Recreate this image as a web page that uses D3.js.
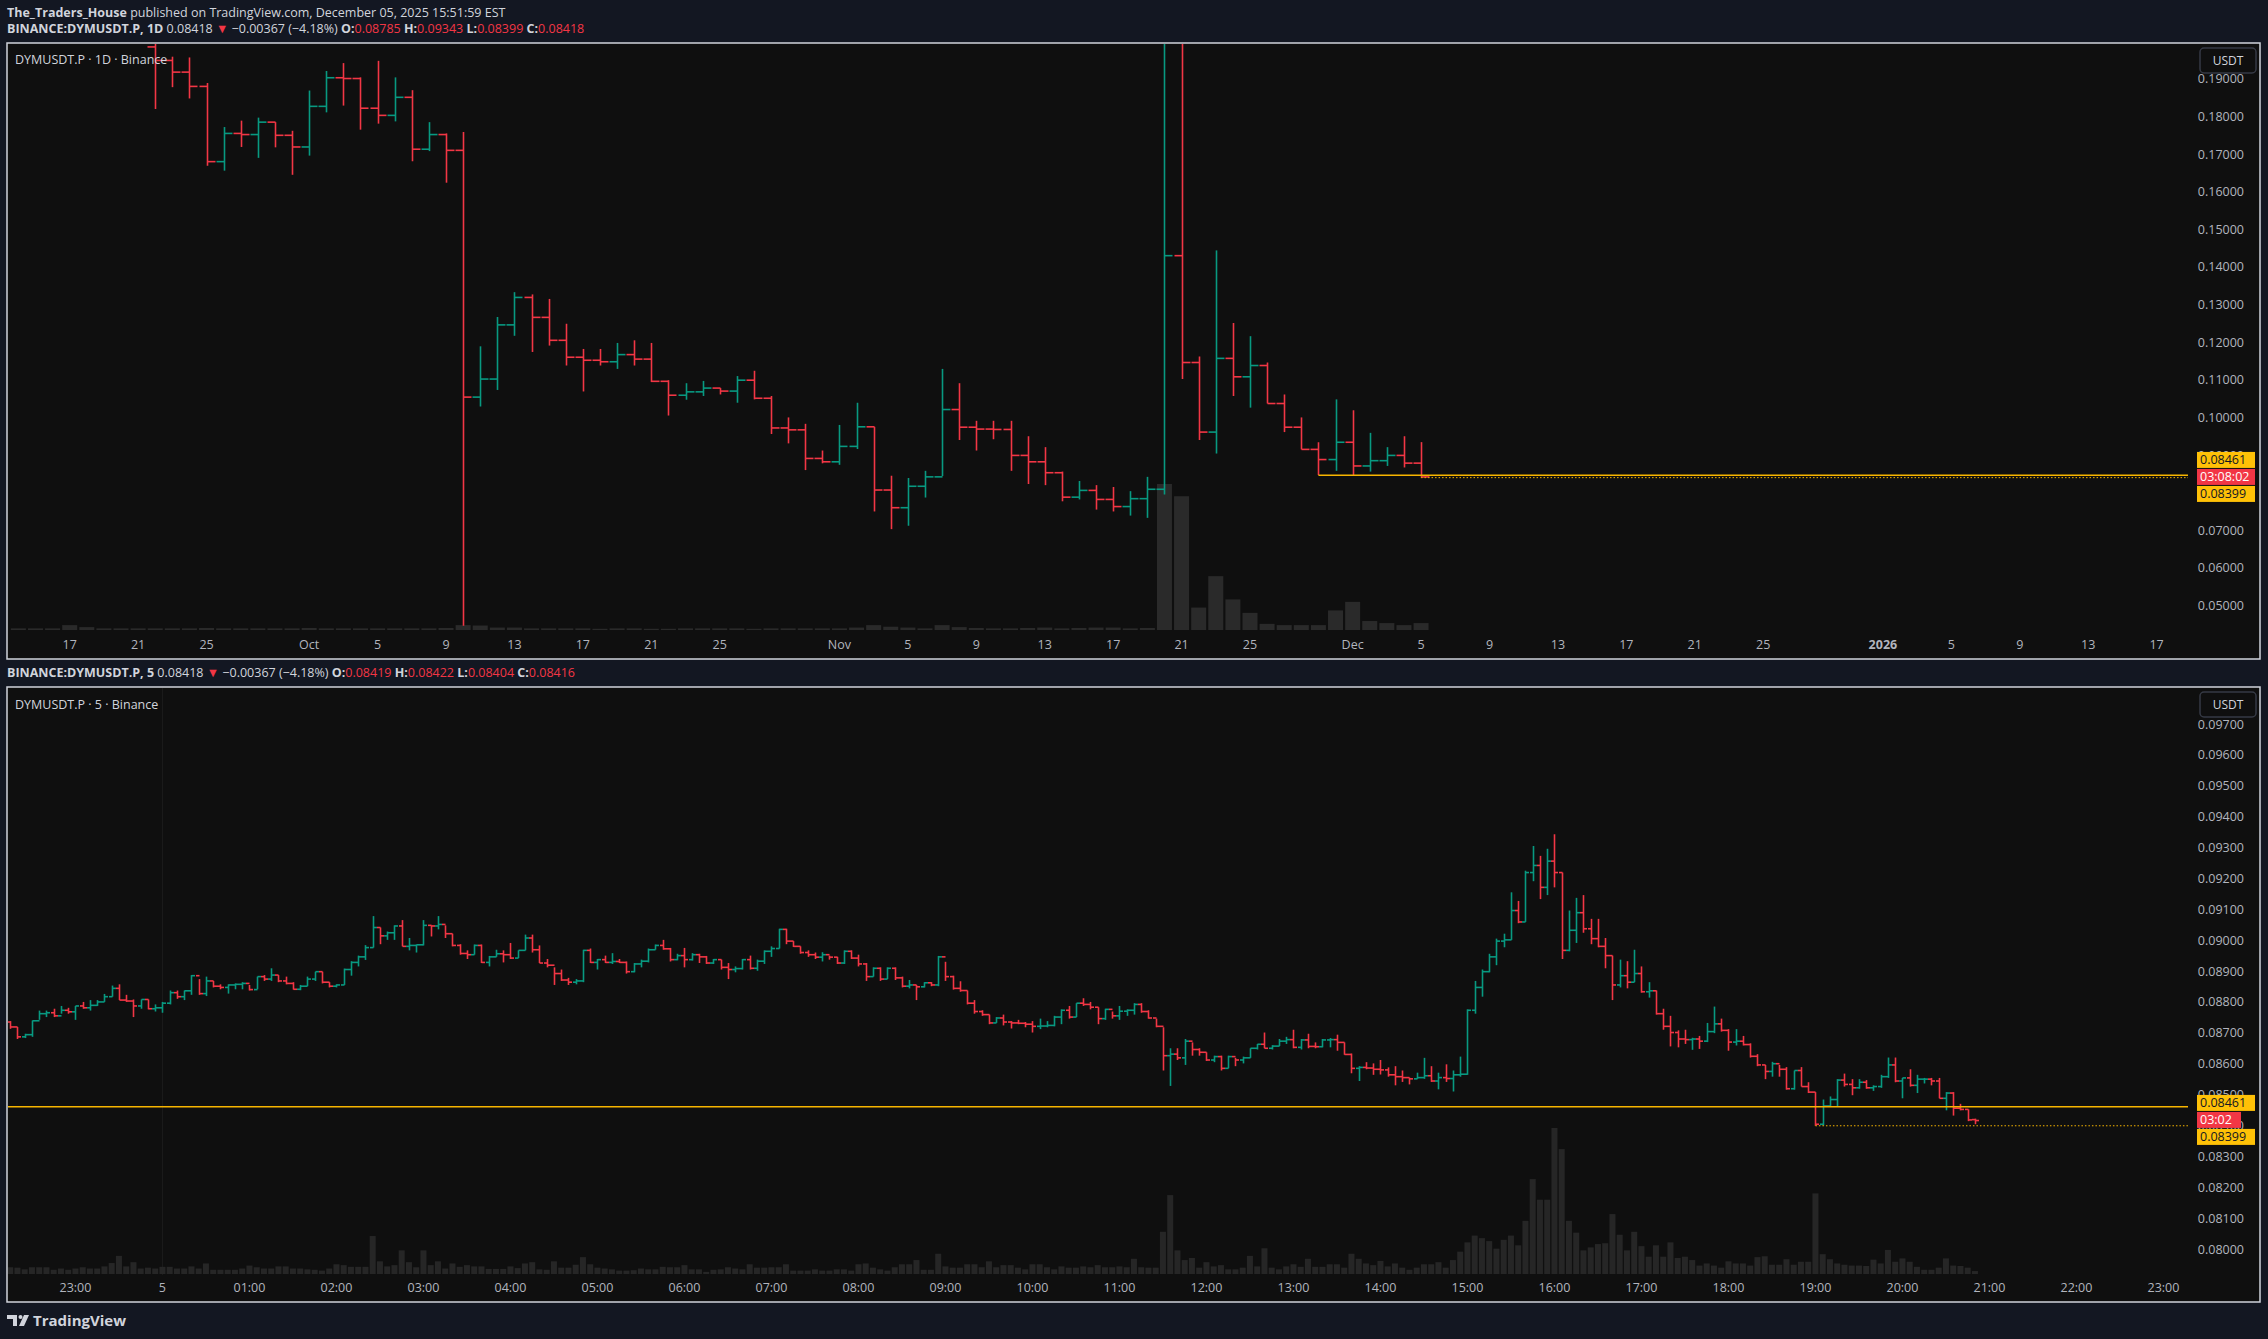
<!DOCTYPE html>
<html>
<head>
<meta charset="utf-8">
<script src="https://cdn.jsdelivr.net/npm/d3@7"></script>
<style>
  body { margin: 0; background: #131722; }
  text { font-family: "Open Sans", Roboto, "Liberation Sans", sans-serif; }
</style>
</head>
<body>
<div id="chart"></div>
<script>
// ---- daily chart (1D), Sep 22 - Dec 5 2025 ----
let dailyStart = '2025-09-22';
let dailyFirstOpen = 0.1985;
let dailyHigh = [0.201,0.1959,0.1957,0.1889,0.1772,0.1789,0.1797,0.1785,0.1762,0.1869,0.1921,0.1942,0.1904,0.1948,0.1904,0.1870,0.1785,0.1755,0.1759,
  0.1189,0.1267,0.1333,0.1327,0.1315,0.1249,0.1182,0.1182,0.1198,0.1205,0.1198,0.1099,0.1091,0.1097,0.1078,0.1110,0.1124,0.1057,0.1000,0.0983,
  0.0912,0.0980,0.1039,0.0975,0.0845,0.0839,0.0858,0.1129,0.1091,0.0991,0.0991,0.0991,0.0950,0.0921,0.0856,0.0831,0.0820,0.0815,0.0804,
  0.0842,0.215,0.205,0.1162,0.1444,0.1251,0.1216,0.1146,0.1061,0.1000,0.0934,0.1048,0.1019,0.0959,0.0921,0.0950,0.09343];
let dailyLow = [0.182,0.1878,0.1848,0.1669,0.1656,0.1719,0.1690,0.1718,0.1645,0.1696,0.1811,0.1829,0.1765,0.1781,0.1787,0.1681,0.1708,0.1624,0.0446,
  0.1029,0.1073,0.1217,0.1174,0.1191,0.1138,0.1069,0.1138,0.1129,0.1138,0.1094,0.1005,0.1047,0.1057,0.1061,0.1039,0.1048,0.0956,0.0931,0.0860,
  0.0878,0.0874,0.0916,0.0750,0.0703,0.0712,0.0787,0.0844,0.0940,0.0912,0.0942,0.0858,0.0823,0.0820,0.0777,0.0782,0.0755,0.0750,0.0739,
  0.0733,0.0795,0.1102,0.0940,0.0904,0.1057,0.1026,0.1037,0.0961,0.0915,0.0847,0.0858,0.0847,0.0856,0.0871,0.0867,0.08399];
let dailyClose = [0.1949,0.1918,0.1880,0.1680,0.1755,0.1752,0.1785,0.1750,0.1719,0.1827,0.1903,0.1901,0.1822,0.1803,0.1851,0.1713,0.1752,0.1710,0.1054,
  0.1102,0.1246,0.1319,0.1266,0.1205,0.1160,0.1152,0.1148,0.1167,0.1155,0.1096,0.1059,0.1068,0.1078,0.1070,0.1099,0.1051,0.0972,0.0967,0.0891,
  0.0882,0.0923,0.0975,0.0807,0.0760,0.0817,0.0842,0.1021,0.0974,0.0969,0.0968,0.0899,0.0882,0.0853,0.0788,0.0806,0.0782,0.0763,0.0784,
  0.0809,0.1430,0.1146,0.0961,0.1157,0.1108,0.1138,0.1037,0.0974,0.0915,0.0888,0.0934,0.0871,0.0885,0.0899,0.08785,0.08418];
let dailyVolume = [4,4,4,5,4,4,4,4,4, 5,4,4,4,4,4,4,4,5, 12,11,6,6,
  4,4,4,4,3,4,4,3,3,4,4,4,4,3,4,4,4,4,
  4,6,12,8,6,4,12,7,5,4,4,5,6,4,5,6,6,4,5,
  358,328,55,132,75,42,15,12,12,12,48,69,22,17,12,17];
// volume only (price above the visible range), Sep 14 - Sep 21
let earlyVolumeStart = '2025-09-14';
let earlyVolume = [4,4,4,12,7,4,4,4];
let dayTicks = ['2025-09-17','2025-09-21','2025-09-25','2025-10-01','2025-10-05','2025-10-09','2025-10-13','2025-10-17','2025-10-21','2025-10-25',
  '2025-11-01','2025-11-05','2025-11-09','2025-11-13','2025-11-17','2025-11-21','2025-11-25','2025-12-01','2025-12-05','2025-12-09','2025-12-13',
  '2025-12-17','2025-12-21','2025-12-25','2026-01-01','2026-01-05','2026-01-09','2026-01-13','2026-01-17'];
let dailyTicksY = [0.05,0.06,0.07,0.08,0.09,0.10,0.11,0.12,0.13,0.14,0.15,0.16,0.17,0.18,0.19];

// ---- 5 minute chart, Dec 4 22:15 - Dec 5 20:50 ----
let intraStart = '2025-12-04T22:15:00Z';
let intraFirstOpen = 0.08735;
let intraHigh = [0.08738,0.08719,0.08697,0.08740,0.08772,0.08772,0.08778,0.08787,0.08781,0.08787,0.08800,0.08806,0.08806,0.08826,0.08853,0.08857,0.08823,0.08808,0.08808,0.08808,
0.08792,0.08800,0.08837,0.08837,0.08837,0.08887,0.08874,0.08882,0.08868,0.08857,0.08857,0.08860,0.08864,0.08855,0.08882,0.08887,0.08909,0.08887,0.08882,0.08864,
0.08855,0.08882,0.08898,0.08898,0.08864,0.08857,0.08908,0.08932,0.08950,0.08984,0.09078,0.09041,0.09028,0.09048,0.09065,0.09007,0.08986,0.09065,0.09048,0.09078,
0.09048,0.09021,0.08987,0.08967,0.08986,0.08986,0.08949,0.08969,0.08967,0.08991,0.08967,0.09018,0.09018,0.08983,0.08939,0.08912,0.08905,0.08878,0.08874,0.08969,
0.08973,0.08939,0.08950,0.08958,0.08939,0.08931,0.08926,0.08937,0.08973,0.08986,0.09001,0.08975,0.08956,0.08975,0.08958,0.08956,0.08949,0.08939,0.08937,0.08926,
0.08915,0.08939,0.08950,0.08937,0.08967,0.08980,0.09037,0.09037,0.08997,0.08980,0.08967,0.08960,0.08961,0.08950,0.08946,0.08967,0.08967,0.08953,0.08926,0.08912,
0.08912,0.08912,0.08912,0.08882,0.08871,0.08855,0.08864,0.08864,0.08949,0.08930,0.08885,0.08867,0.08837,0.08806,0.08773,0.08759,0.08751,0.08759,0.08738,0.08742,
0.08735,0.08738,0.08746,0.08738,0.08755,0.08776,0.08787,0.08796,0.08812,0.08800,0.08783,0.08778,0.08769,0.08787,0.08776,0.08796,0.08796,0.08773,0.08746,0.08718,
0.08650,0.08650,0.08680,0.08669,0.08650,0.08637,0.08626,0.08626,0.08626,0.08619,0.08623,0.08650,0.08664,0.08701,0.08660,0.08680,0.08687,0.08710,0.08680,0.08697,
0.08669,0.08680,0.08683,0.08694,0.08669,0.08633,0.08592,0.08605,0.08601,0.08612,0.08588,0.08592,0.08578,0.08555,0.08571,0.08619,0.08592,0.08571,0.08598,0.08578,
0.08623,0.08776,0.08868,0.08905,0.08956,0.09005,0.09021,0.09155,0.09127,0.09225,0.09305,0.09273,0.09296,0.09343,0.09219,0.09096,0.09137,0.09146,0.09069,0.09069,
0.09007,0.08950,0.08937,0.08932,0.08969,0.08915,0.08864,0.08837,0.08778,0.08755,0.08708,0.08710,0.08684,0.08690,0.08732,0.08785,0.08746,0.08712,0.08712,0.08690,
0.08666,0.08631,0.08596,0.08606,0.08596,0.08589,0.08578,0.08589,0.08540,0.08508,0.08484,0.08494,0.08550,0.08568,0.08550,0.08550,0.08547,0.08530,0.08564,0.08620,
0.08620,0.08554,0.08582,0.08564,0.08554,0.08554,0.08554,0.08508,0.08508,0.08470,0.08452,0.08422];
let intraLow = [0.08713,0.08680,0.08683,0.08687,0.08742,0.08751,0.08751,0.08762,0.08762,0.08742,0.08778,0.08772,0.08787,0.08800,0.08817,0.08806,0.08800,0.08751,0.08778,0.08776,
0.08769,0.08765,0.08792,0.08810,0.08806,0.08823,0.08823,0.08819,0.08847,0.08841,0.08827,0.08841,0.08841,0.08837,0.08841,0.08868,0.08868,0.08864,0.08857,0.08840,
0.08838,0.08851,0.08868,0.08860,0.08847,0.08847,0.08855,0.08885,0.08915,0.08936,0.08976,0.08987,0.09001,0.09001,0.08980,0.08967,0.08960,0.08983,0.09012,0.09035,
0.09007,0.08980,0.08953,0.08939,0.08953,0.08926,0.08915,0.08946,0.08928,0.08939,0.08942,0.08967,0.08960,0.08926,0.08912,0.08855,0.08868,0.08855,0.08857,0.08864,
0.08926,0.08905,0.08926,0.08923,0.08926,0.08892,0.08896,0.08912,0.08928,0.08969,0.08969,0.08931,0.08935,0.08912,0.08934,0.08926,0.08923,0.08923,0.08905,0.08874,
0.08896,0.08905,0.08905,0.08901,0.08923,0.08946,0.08973,0.08987,0.08978,0.08956,0.08946,0.08939,0.08931,0.08937,0.08923,0.08923,0.08939,0.08915,0.08868,0.08882,
0.08868,0.08874,0.08871,0.08847,0.08844,0.08806,0.08847,0.08851,0.08851,0.08868,0.08840,0.08833,0.08792,0.08762,0.08755,0.08728,0.08732,0.08724,0.08714,0.08728,
0.08718,0.08701,0.08712,0.08718,0.08721,0.08728,0.08746,0.08751,0.08787,0.08776,0.08728,0.08742,0.08746,0.08742,0.08755,0.08759,0.08765,0.08746,0.08718,0.08578,
0.08528,0.08612,0.08596,0.08626,0.08626,0.08609,0.08605,0.08578,0.08585,0.08592,0.08601,0.08619,0.08646,0.08650,0.08646,0.08657,0.08664,0.08650,0.08646,0.08650,
0.08650,0.08653,0.08653,0.08642,0.08629,0.08569,0.08544,0.08582,0.08564,0.08565,0.08558,0.08530,0.08541,0.08533,0.08551,0.08551,0.08541,0.08517,0.08541,0.08510,
0.08558,0.08564,0.08762,0.08817,0.08896,0.08919,0.08977,0.09001,0.09055,0.09059,0.09191,0.09133,0.09146,0.09171,0.08939,0.08964,0.08991,0.09024,0.08987,0.08977,
0.08909,0.08806,0.08847,0.08844,0.08864,0.08830,0.08814,0.08759,0.08710,0.08656,0.08653,0.08664,0.08645,0.08648,0.08670,0.08699,0.08704,0.08642,0.08659,0.08659,
0.08620,0.08592,0.08550,0.08558,0.08558,0.08516,0.08516,0.08526,0.08505,0.08399,0.08400,0.08463,0.08460,0.08526,0.08498,0.08519,0.08519,0.08512,0.08522,0.08554,
0.08540,0.08488,0.08526,0.08505,0.08536,0.08530,0.08488,0.08449,0.08432,0.08449,0.08414,0.08404];
let intraClose = [0.08719,0.08687,0.08694,0.08739,0.08762,0.08765,0.08755,0.08773,0.08768,0.08787,0.08781,0.08789,0.08800,0.08817,0.08844,0.08806,0.08803,0.08787,0.08808,0.08778,
0.08781,0.08796,0.08830,0.08817,0.08836,0.08885,0.08827,0.08868,0.08851,0.08847,0.08855,0.08857,0.08860,0.08840,0.08882,0.08874,0.08887,0.08868,0.08860,0.08841,
0.08851,0.08874,0.08898,0.08864,0.08851,0.08855,0.08905,0.08928,0.08946,0.08976,0.09041,0.09014,0.09024,0.09046,0.08980,0.08983,0.08985,0.09048,0.09046,0.09051,
0.09021,0.08983,0.08957,0.08953,0.08983,0.08928,0.08946,0.08956,0.08953,0.08942,0.08967,0.09007,0.08969,0.08926,0.08919,0.08892,0.08871,0.08864,0.08868,0.08967,
0.08928,0.08937,0.08928,0.08931,0.08928,0.08898,0.08923,0.08932,0.08969,0.08983,0.08972,0.08937,0.08950,0.08937,0.08953,0.08946,0.08926,0.08937,0.08912,0.08905,
0.08908,0.08937,0.08909,0.08932,0.08964,0.08973,0.09035,0.08997,0.08980,0.08960,0.08953,0.08945,0.08953,0.08945,0.08926,0.08964,0.08942,0.08923,0.08882,0.08909,
0.08874,0.08909,0.08878,0.08851,0.08855,0.08849,0.08862,0.08855,0.08946,0.08882,0.08844,0.08837,0.08796,0.08769,0.08759,0.08732,0.08748,0.08735,0.08732,0.08731,
0.08728,0.08721,0.08722,0.08724,0.08751,0.08773,0.08751,0.08796,0.08792,0.08783,0.08746,0.08776,0.08755,0.08770,0.08773,0.08792,0.08769,0.08748,0.08721,0.08626,
0.08631,0.08619,0.08673,0.08646,0.08637,0.08612,0.08623,0.08585,0.08623,0.08612,0.08619,0.08650,0.08663,0.08650,0.08657,0.08673,0.08678,0.08653,0.08677,0.08656,
0.08655,0.08677,0.08678,0.08669,0.08630,0.08585,0.08588,0.08586,0.08582,0.08580,0.08564,0.08558,0.08555,0.08551,0.08555,0.08561,0.08544,0.08555,0.08552,0.08564,
0.08566,0.08773,0.08847,0.08898,0.08946,0.08997,0.09001,0.09096,0.09059,0.09219,0.09242,0.09171,0.09256,0.09219,0.08967,0.09032,0.09089,0.09037,0.09005,0.08980,
0.08950,0.08855,0.08885,0.08864,0.08892,0.08833,0.08836,0.08762,0.08721,0.08701,0.08680,0.08678,0.08680,0.08673,0.08704,0.08729,0.08708,0.08670,0.08673,0.08662,
0.08624,0.08596,0.08575,0.08600,0.08582,0.08519,0.08578,0.08526,0.08508,0.08404,0.08463,0.08484,0.08547,0.08533,0.08522,0.08540,0.08522,0.08526,0.08558,0.08596,
0.08544,0.08554,0.08530,0.08550,0.08550,0.08544,0.08488,0.08505,0.08456,0.08452,0.08418,0.08416];
let intraLastOpen = 0.08419;
let intraVolume = [16,15,11,16,16,16,10,13,10,13,16,13,13,18,26,43,18,28,13,15,
13,17,17,13,13,18,13,25,10,10,10,10,13,20,16,13,13,18,18,13,
13,11,10,8,13,23,21,17,17,17,90,30,18,21,56,28,16,56,21,30,
13,25,17,21,18,18,12,12,12,18,14,25,28,11,10,30,15,15,22,40,
23,15,13,11,8,8,9,13,11,11,17,16,16,21,11,11,5,10,11,16,
13,11,23,15,15,16,16,23,8,8,8,11,8,8,11,11,8,23,25,15,
11,8,16,23,23,33,10,10,48,18,15,15,23,23,16,30,16,21,21,15,
11,23,23,16,11,18,15,15,18,16,21,16,16,18,16,36,16,15,15,100,
187,56,33,38,15,28,18,21,11,11,15,43,18,61,15,11,18,23,17,36,
17,17,23,23,15,48,36,25,21,31,18,25,15,10,15,23,23,28,15,33,
53,75,91,85,78,60,81,91,68,126,225,176,176,346,296,126,98,56,63,71,
73,142,93,56,100,66,41,68,41,75,38,41,33,20,25,20,15,30,25,25,
20,40,42,22,22,35,22,29,29,191,47,35,25,22,20,20,19,34,25,57,
29,37,29,17,10,10,15,37,20,19,15,7];
let intraTicksY = [0.080,0.081,0.082,0.083,0.084,0.085,0.086,0.087,0.088,0.089,0.090,0.091,0.092,0.093,0.094,0.095,0.096,0.097];

// horizontal levels
let levelHigh = 0.08461;
let levelLow = 0.08399;
let lastPrice = 0.08418;

const W = 2268, H = 1339;
const up = '#089981', down = '#f23645', gold = '#f7b500', txt = '#b2b5be';

let svg = d3.select('#chart').append('svg')
  .attr('width', W).attr('height', H)
  .style('display', 'block').style('background', '#131722');

// header
let hdr = svg.append('text').attr('x', 7).attr('y', 17).attr('font-size', 12.5).attr('fill', '#d1d4dc');
hdr.append('tspan').attr('font-weight', 'bold').text('The_Traders_House');
hdr.append('tspan').text(' published on TradingView.com, December 05, 2025 15:51:59 EST');

function infoLine(y, label, o, h, l, c) {
  let t = svg.append('text').attr('x', 7).attr('y', y).attr('font-size', 12.5).attr('fill', '#d1d4dc');
  t.append('tspan').attr('font-weight', 'bold').text(label);
  t.append('tspan').text(' 0.08418');
  t.append('tspan').attr('fill', down).text(' ▼');
  t.append('tspan').text(' −0.00367 (−4.18%) ');
  [['O:', o], [' H:', h], [' L:', l], [' C:', c]].forEach(p => {
    t.append('tspan').attr('font-weight', 'bold').text(p[0]);
    t.append('tspan').attr('fill', down).text(p[1]);
  });
}
infoLine(33, 'BINANCE:DYMUSDT.P, 1D', '0.08785', '0.09343', '0.08399', '0.08418');
infoLine(677, 'BINANCE:DYMUSDT.P, 5', '0.08419', '0.08422', '0.08404', '0.08416');

// panel helper
function panel(id, top, bottom) {
  let g = svg.append('g');
  g.append('rect').attr('x', 7).attr('y', top).attr('width', 2253).attr('height', bottom - top)
    .attr('fill', '#0f0f0f').attr('stroke', '#d1d4dc').attr('stroke-width', 1.5);
  svg.append('clipPath').attr('id', id).append('rect')
    .attr('x', 8).attr('y', top + 1).attr('width', 2180).attr('height', bottom - top - 2);
  return g;
}

function drawBars(g, data, x, y, tick) {
  let b = g.append('g').attr('stroke-width', 1.6);
  data.forEach(d => {
    let col = d.c >= d.o ? up : down;
    let xx = Math.round(x(d.t)) + 0.5;
    b.append('line').attr('x1', xx).attr('x2', xx).attr('y1', y(d.h)).attr('y2', y(d.l)).attr('stroke', col);
    b.append('line').attr('x1', xx - tick).attr('x2', xx).attr('y1', y(d.o)).attr('y2', y(d.o)).attr('stroke', col);
    b.append('line').attr('x1', xx).attr('x2', xx + tick).attr('y1', y(d.c)).attr('y2', y(d.c)).attr('stroke', col);
  });
}

function priceAxis(g, ticks, y, top) {
  ticks.forEach(v => {
    g.append('text').attr('x', 2244).attr('y', y(v) + 4.5).attr('text-anchor', 'end')
      .attr('font-size', 12.5).attr('fill', txt).text(v.toFixed(5));
  });
  g.append('rect').attr('x', 2200).attr('y', top + 5).attr('width', 56).attr('height', 25).attr('rx', 4)
    .attr('fill', '#0f0f0f').attr('stroke', '#363a45').attr('stroke-width', 1.5);
  g.append('text').attr('x', 2228).attr('y', top + 22).attr('text-anchor', 'middle')
    .attr('font-size', 12).attr('fill', '#d1d4dc').text('USDT');
}

function priceLabels(g, y, timer, redW) {
  let yc = y(lastPrice);
  let boxes = [
    {v: levelHigh.toFixed(5), y: yc - 17, fill: '#ffc107', col: '#131722', w: 58},
    {v: timer, y: yc, fill: down, col: '#ffffff', w: redW},
    {v: levelLow.toFixed(5), y: yc + 17, fill: '#ffc107', col: '#131722', w: 58}
  ];
  boxes.forEach(b => {
    g.append('rect').attr('x', 2197).attr('y', b.y - 8).attr('width', b.w).attr('height', 16).attr('fill', b.fill);
    g.append('text').attr('x', 2200).attr('y', b.y + 4.5).attr('font-size', 12.5).attr('fill', b.col).text(b.v);
  });
}

// ---------- top: daily ----------
let gTop = panel('clipTop', 43, 659);
let parseDay = d3.utcParse('%Y-%m-%d');
let day0 = parseDay(dailyStart);
let daily = dailyClose.map((c, i) => ({
  t: d3.utcDay.offset(day0, i),
  o: i === 0 ? dailyFirstOpen : dailyClose[i - 1],
  h: dailyHigh[i], l: dailyLow[i], c: c, v: dailyVolume[i]
}));
let early = earlyVolume.map((v, i) => ({t: d3.utcDay.offset(parseDay(earlyVolumeStart), i), v: v}));

let xTop = d3.scaleUtc().domain([parseDay('2025-09-17'), parseDay('2026-01-17')]).range([69.7, 2156.6]);
let yTop = d3.scaleLinear().domain([0.05, 0.18]).range([605.5, 116.5]);
let vTop = d3.scaleLinear().domain([0, 358]).range([630, 484]);

let plotTop = gTop.append('g').attr('clip-path', 'url(#clipTop)');
plotTop.append('g').selectAll('rect').data(early.concat(daily)).join('rect')
  .attr('x', d => xTop(d.t) - 7.5).attr('width', 15)
  .attr('y', d => vTop(d.v)).attr('height', d => 630 - vTop(d.v))
  .attr('fill', '#2a2a2a');
drawBars(plotTop, daily, xTop, yTop, 8);

// level lines
plotTop.append('line').attr('x1', xTop(parseDay('2025-11-29'))).attr('x2', 2197)
  .attr('y1', yTop(levelHigh)).attr('y2', yTop(levelHigh)).attr('stroke', gold).attr('stroke-width', 1.5);
plotTop.append('line').attr('x1', xTop(parseDay('2025-12-05'))).attr('x2', 2197)
  .attr('y1', yTop(levelLow)).attr('y2', yTop(levelLow)).attr('stroke', gold).attr('stroke-width', 1).attr('stroke-dasharray', '1.5,2');

gTop.append('text').attr('x', 15).attr('y', 64).attr('font-size', 12.5).attr('fill', '#d1d4dc').text('DYMUSDT.P · 1D · Binance');

dayTicks.forEach(s => {
  let d = parseDay(s);
  let label = d.getUTCDate() !== 1 ? String(d.getUTCDate())
    : (d.getUTCMonth() === 0 ? String(d.getUTCFullYear()) : d3.utcFormat('%b')(d));
  gTop.append('text').attr('x', xTop(d)).attr('y', 649).attr('text-anchor', 'middle')
    .attr('font-size', 12.5).attr('fill', txt)
    .attr('font-weight', d.getUTCMonth() === 0 && d.getUTCDate() === 1 ? 'bold' : 'normal').text(label);
});
priceAxis(gTop, dailyTicksY, yTop, 43);
priceLabels(gTop, yTop, '03:08:02', 58);

// ---------- bottom: 5 minute ----------
let gBot = panel('clipBot', 687, 1302);
let t0 = new Date(intraStart);
let n = intraClose.length;
let intra = intraClose.map((c, i) => ({
  t: d3.utcMinute.offset(t0, 5 * i),
  o: i === 0 ? intraFirstOpen : (i === n - 1 ? intraLastOpen : intraClose[i - 1]),
  h: intraHigh[i], l: intraLow[i], c: c, v: intraVolume[i]
}));

let xBot = d3.scaleUtc().domain([t0, d3.utcHour.offset(t0, 24)]).range([10.2, 10.2 + 87 * 24]);
let yBot = d3.scaleLinear().domain([0.080, 0.097]).range([1249, 724]);
let vBot = d3.scaleLinear().domain([0, 346]).range([1274, 1128]);

let midnight = new Date('2025-12-05T00:00:00Z');
gBot.append('line').attr('x1', xBot(midnight)).attr('x2', xBot(midnight)).attr('y1', 688).attr('y2', 1275)
  .attr('stroke', '#1c1c1c').attr('stroke-width', 1);

let plotBot = gBot.append('g').attr('clip-path', 'url(#clipBot)');
plotBot.append('g').selectAll('rect').data(intra).join('rect')
  .attr('x', d => xBot(d.t) - 3).attr('width', 6)
  .attr('y', d => vBot(d.v)).attr('height', d => 1274 - vBot(d.v))
  .attr('fill', '#262626');
drawBars(plotBot, intra, xBot, yBot, 3.5);

plotBot.append('line').attr('x1', 8).attr('x2', 2197)
  .attr('y1', yBot(levelHigh)).attr('y2', yBot(levelHigh)).attr('stroke', gold).attr('stroke-width', 1.5);
plotBot.append('line').attr('x1', xBot(intra[249].t)).attr('x2', 2197)
  .attr('y1', yBot(levelLow)).attr('y2', yBot(levelLow)).attr('stroke', gold).attr('stroke-width', 1).attr('stroke-dasharray', '1.5,2');

gBot.append('text').attr('x', 15).attr('y', 709).attr('font-size', 12.5).attr('fill', '#d1d4dc').text('DYMUSDT.P · 5 · Binance');

d3.utcHour.range(new Date('2025-12-04T23:00:00Z'), new Date('2025-12-06T00:00:00Z')).forEach(h => {
  let label = h.getUTCHours() === 0 ? String(h.getUTCDate()) : d3.utcFormat('%H:%M')(h);
  gBot.append('text').attr('x', xBot(h)).attr('y', 1292).attr('text-anchor', 'middle')
    .attr('font-size', 12.5).attr('fill', txt).text(label);
});
priceAxis(gBot, intraTicksY, yBot, 687);
priceLabels(gBot, yBot, '03:02', 44);

// footer logo
let logo = svg.append('g').attr('fill', '#d1d4dc');
logo.append('path').attr('d', 'M7 1315 h10 v11 h-4 v-7 h-6 z');
logo.append('circle').attr('cx', 20.5).attr('cy', 1317).attr('r', 2);
logo.append('path').attr('d', 'M24 1315 h5 l-5 11 h-5 z');
svg.append('text').attr('x', 33).attr('y', 1326).attr('font-size', 15).attr('font-weight', 'bold')
  .attr('fill', '#d1d4dc').text('TradingView');
</script>
</body>
</html>
